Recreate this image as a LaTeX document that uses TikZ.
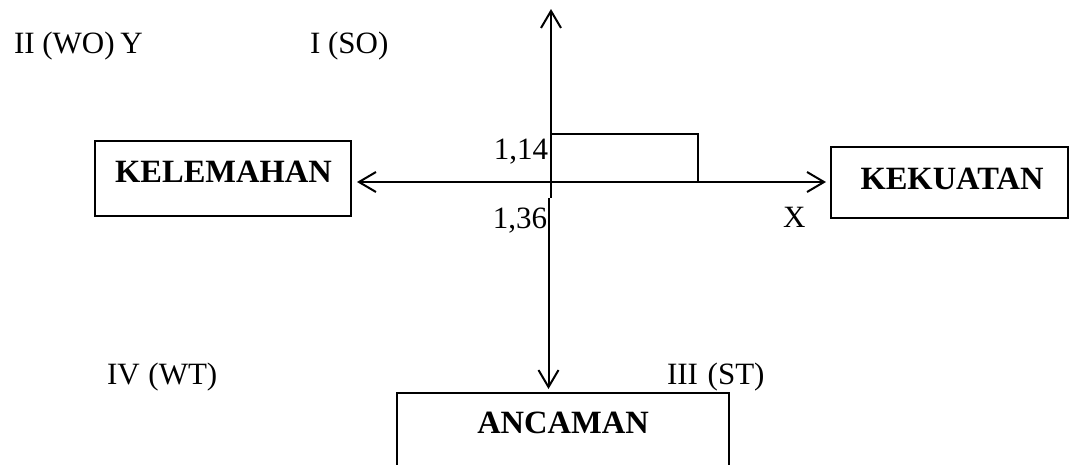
\documentclass[tikz,border=0pt]{standalone}
\usepackage{fontspec}
\setmainfont{Liberation Serif}
\usetikzlibrary{arrows.meta}
\begin{document}
\begin{tikzpicture}[x=1pt,y=-1pt,
  every node/.style={inner sep=0pt, outer sep=0pt},
  lbl/.style={font=\fontsize{31}{36}\selectfont},
  head/.style={font=\bfseries\fontsize{32.5}{38}\selectfont},
  frame/.style={draw, line width=1.2pt, rectangle},
  axis/.style={line width=2pt, -{Straight Barb[length=17pt,width=20pt,line width=2pt]}},
  plain/.style={line width=2pt},
  bar/.style={draw, line width=1.4pt}]
\useasboundingbox (0,0) rectangle (1072,464);
\clip (0,0) rectangle (1072,464);

% origin and axis ends
\coordinate (O) at (551,182);
\coordinate (ytop) at (551,9);
\coordinate (jogA) at (551,198);
\coordinate (jogB) at (548.5,198);
\coordinate (ybot) at (548.5,389);
\coordinate (xleft) at (357,182);
\coordinate (xright) at (826,182);

% boxes
\node[frame, minimum width=256, minimum height=75] (kel) at (223,178.5) {};
\node[head, anchor=base] (kelt) at (223.5,182) {KELEMAHAN};
\node[frame, minimum width=237, minimum height=71] (kek) at (949.5,182.5) {};
\node[head, anchor=base] (kekt) at (952,189) {KEKUATAN};
\node[frame, minimum width=332, minimum height=120] (anc) at (563,453) {};
\node[head, anchor=base] (anct) at (563,433) {ANCAMAN};

% small bar in quadrant I
\draw[bar] (O) |- (551,134) -| (698,182);

% axes
\draw[axis] (O) -- (ytop);
\draw[axis] (O) -- (xleft);
\draw[axis] (O) -- (xright);
\draw[plain] (O) -- (jogA);
\draw[axis] (jogB) -- (ybot);

% labels
\node[lbl, anchor=base west] (q2) at (14,53) {II (WO)\hspace{-2pt} Y};
\node[lbl, anchor=base west] (q1) at (310,53) {I (SO)};
\node[lbl, anchor=base east] (v1) at (548,159) {1,14};
\node[lbl, anchor=base east] (v2) at (547,228) {1,36};
\node[lbl, anchor=base west] (xl) at (783,227) {X};
\node[lbl, anchor=base west] (q4) at (107,384) {IV\hspace{1pt} (WT)};
\node[lbl, anchor=base west] (q3) at (667,384) {III\hspace{2pt} (ST)};
\end{tikzpicture}
\end{document}
